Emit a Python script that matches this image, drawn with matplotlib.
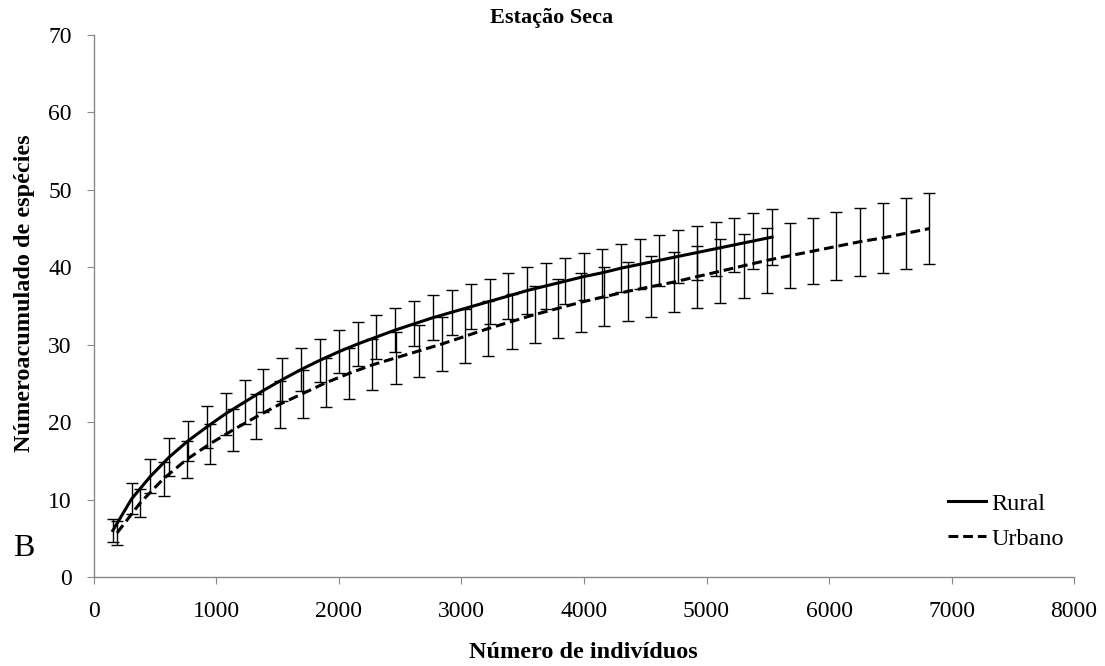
import matplotlib
matplotlib.use('Agg')
import matplotlib.pyplot as plt

plt.rcParams['font.family'] = ['Liberation Serif', 'DejaVu Serif']

# Rarefaction curves, dry season
rural_x = [154, 308, 461, 615, 769, 923, 1076, 1230, 1384, 1538, 1691, 1845,
           1999, 2153, 2306, 2460, 2614, 2768, 2921, 3075, 3229, 3383, 3536, 3690,
           3844, 3998, 4151, 4305, 4459, 4613, 4766, 4920, 5074, 5228, 5381, 5535]
rural_y = [6.0, 10.1, 13.0, 15.5, 17.6, 19.4, 21.1, 22.6, 24.1, 25.5, 26.8, 28.0,
           29.1, 30.1, 31.0, 31.9, 32.7, 33.5, 34.2, 34.9, 35.6, 36.3, 37.0, 37.6,
           38.2, 38.8, 39.3, 39.9, 40.4, 40.9, 41.4, 41.9, 42.4, 42.9, 43.4, 43.9]
rural_err = [1.5, 2.0, 2.2, 2.4, 2.6, 2.7, 2.7, 2.8, 2.8, 2.8, 2.8, 2.8,
             2.8, 2.8, 2.8, 2.9, 2.9, 2.9, 2.9, 2.9, 2.9, 3.0, 3.0, 3.0,
             3.0, 3.0, 3.1, 3.1, 3.2, 3.3, 3.4, 3.5, 3.5, 3.5, 3.6, 3.6]

urban_x = [189, 379, 568, 758, 947, 1136, 1326, 1515, 1705, 1894, 2083, 2273,
           2462, 2652, 2841, 3030, 3220, 3409, 3599, 3788, 3977, 4167, 4356, 4546,
           4735, 4924, 5114, 5303, 5493, 5682, 5871, 6061, 6250, 6440, 6629, 6818]
urban_y = [5.7, 9.6, 12.7, 15.2, 17.2, 19.0, 20.7, 22.3, 23.7, 25.1, 26.3, 27.4,
           28.3, 29.2, 30.1, 31.1, 32.1, 33.0, 33.9, 34.7, 35.5, 36.2, 36.9, 37.5,
           38.1, 38.8, 39.5, 40.2, 40.9, 41.5, 42.1, 42.7, 43.3, 43.8, 44.4, 45.0]
urban_err = [1.5, 1.8, 2.2, 2.4, 2.6, 2.7, 2.9, 3.0, 3.1, 3.2, 3.3, 3.3,
             3.4, 3.4, 3.5, 3.5, 3.5, 3.6, 3.7, 3.8, 3.8, 3.8, 3.8, 3.9,
             3.9, 4.0, 4.1, 4.1, 4.2, 4.2, 4.3, 4.4, 4.4, 4.5, 4.6, 4.6]

fig = plt.figure(figsize=(11.05, 6.66), dpi=100)
ax = fig.add_axes([0.085, 0.1336, 0.887, 0.8138])

ax.errorbar(rural_x, rural_y, yerr=rural_err, fmt='none', ecolor='black',
            elinewidth=1.0, capsize=4, capthick=1.0)
ax.errorbar(urban_x, urban_y, yerr=urban_err, fmt='none', ecolor='black',
            elinewidth=1.0, capsize=4, capthick=1.0)
ax.plot(rural_x, rural_y, color='black', lw=2.2, label='Rural')
ax.plot(urban_x, urban_y, color='black', lw=2.2, linestyle=(0, (3.2, 1.6)),
        label='Urbano')

ax.set_xlim(0, 8000)
ax.set_ylim(0, 70)
ax.set_xticks(range(0, 8001, 1000))
ax.set_yticks(range(0, 71, 10))

ax.spines['top'].set_visible(False)
ax.spines['right'].set_visible(False)
for s in ('left', 'bottom'):
    ax.spines[s].set_color('#888888')
    ax.spines[s].set_linewidth(1.0)
ax.tick_params(direction='out', length=5, color='#888888', labelsize=17,
               labelcolor='black')
ax.xaxis.set_tick_params(pad=12)
ax.yaxis.set_tick_params(pad=11)

leg = ax.legend(frameon=False, fontsize=17.5, loc='lower right',
                bbox_to_anchor=(0.99, 0.05), borderaxespad=0, borderpad=0,
                handlelength=1.55, handletextpad=0.25, labelspacing=0.55)

fig.text(0.499, 0.973, 'Estação Seca', ha='center', va='center',
         fontsize=16, fontweight='bold')
fig.text(0.528, 0.021, 'Número de indivíduos', ha='center', va='center',
         fontsize=17.5, fontweight='bold')
fig.text(0.022, 0.56, 'Númeroacumulado de espécies', ha='center',
         va='center', rotation=90, fontsize=17.5, fontweight='bold')
fig.text(0.012, 0.177, 'B', ha='left', va='center', fontsize=23)

fig.savefig('out.png', dpi=100)
